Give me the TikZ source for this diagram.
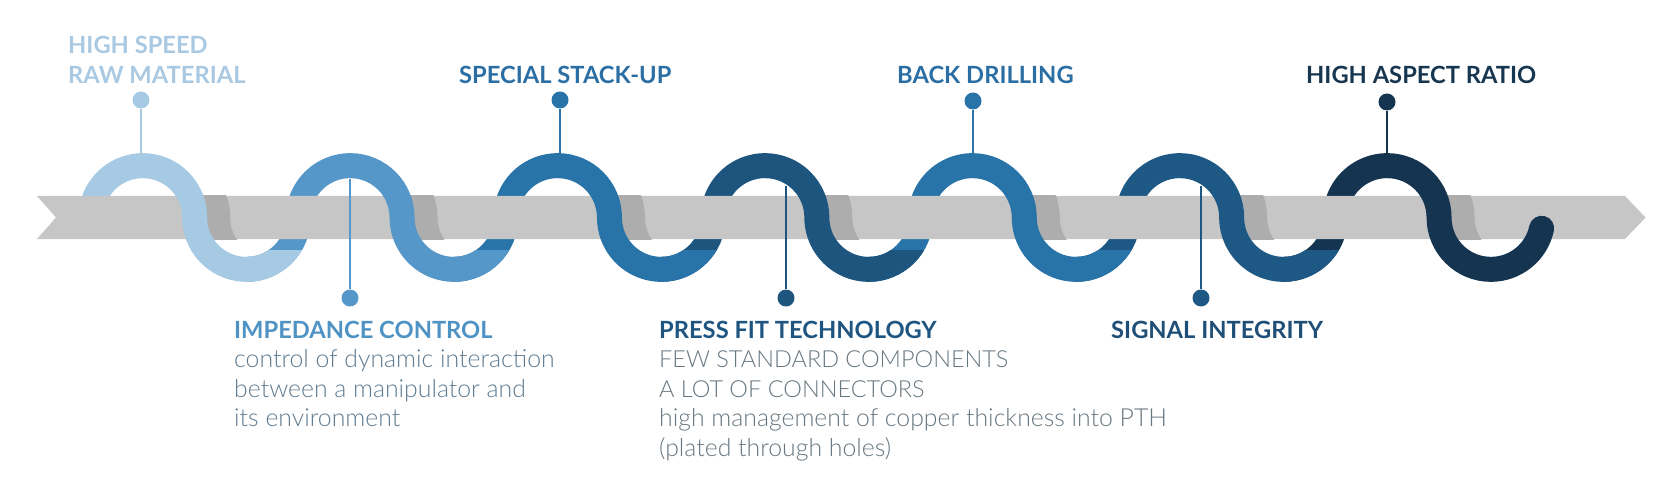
\documentclass[tikz,border=0pt]{standalone}
\usepackage{fontspec}
\setmainfont{Lato}
\newfontfamily\hf{Lato}
\newfontfamily\lf{Lato Light}
\definecolor{w1}{HTML}{A7CAE4}
\definecolor{w2}{HTML}{5597C9}
\definecolor{w3}{HTML}{2873A8}
\definecolor{w4}{HTML}{1D557F}
\definecolor{w5}{HTML}{2873A8}
\definecolor{w6}{HTML}{1E5884}
\definecolor{w7}{HTML}{14344F}
\definecolor{t1}{HTML}{A9C9E2}
\definecolor{t2}{HTML}{4F92C4}
\definecolor{t3}{HTML}{2A6EA4}
\definecolor{t4}{HTML}{1F5581}
\definecolor{t6}{HTML}{1F4F76}
\definecolor{t7}{HTML}{173650}
\definecolor{bodyA}{HTML}{5F7B90}
\definecolor{bodyB}{HTML}{67767F}
\definecolor{barc}{HTML}{C6C6C6}
\definecolor{shadc}{HTML}{ADADAD}
\tikzset{
  wave/.style={line width=25pt, line cap=butt},
  stick/.style={line width=2pt},
  head/.style={anchor=base west, inner sep=0pt, font=\hf\bfseries\fontsize{23.7}{28}\selectfont},
  bodytxt/.style={anchor=base west, inner sep=0pt, font=\lf\fontsize{23.5}{28}\selectfont},
  bodylow/.style={anchor=base west, inner sep=0pt, font=\lf\fontsize{24.8}{28}\selectfont},
}
\begin{document}
\begin{tikzpicture}[x=1pt,y=-1pt]
\useasboundingbox (0,0) rectangle (1670,489);
\def\R{51.85}
\def\CY{217.5}
% ---- wave parts behind the bar
\foreach \i/\col in {1/w1,2/w2,3/w3,4/w4,5/w5,6/w6,7/w7}{
  \pgfmathsetmacro\cx{142.8+(\i-1)*207.4}
  \pgfmathsetmacro\px{\cx-103.7}
  \ifnum\i=1
    \draw[wave,\col] (\cx-\R,\CY) arc[start angle=180,end angle=272,radius=\R];
  \else
    \draw[wave,\col] (\px,\CY+\R) arc[start angle=90,end angle=0,radius=\R]
       arc[start angle=180,end angle=272,radius=\R];
  \fi
}
\begin{scope}
  \clip (0,250) rectangle (1670,489);
  \foreach \i/\col in {1/w1,2/w2,3/w3,4/w4,5/w5,6/w6}{
    \pgfmathsetmacro\tx{142.8+(\i-1)*207.4+103.7}
    \draw[wave,\col] (\tx,\CY+\R) arc[start angle=90,end angle=0,radius=\R];
  }
\end{scope}
% ---- bar
\fill[barc] (37,196) -- (1625,196) -- (1645.5,217.5) -- (1625,239) -- (37,239) -- (56,217.5) -- cycle;
% ---- shadows on the bar
\begin{scope}
  \clip (37,196) rectangle (1625,239);
  \foreach \i in {1,...,7}{
    \pgfmathsetmacro\cx{142.8+(\i-1)*207.4+23}
    \draw[wave,shadc] (\cx,\CY-\R) arc[start angle=270,end angle=360,radius=\R]
       arc[start angle=180,end angle=100,radius=\R];
  }
\end{scope}
% ---- wave parts in front of the bar
\foreach \i/\col in {1/w1,2/w2,3/w3,4/w4,5/w5,6/w6}{
  \pgfmathsetmacro\cx{142.8+(\i-1)*207.4}
  \draw[wave,\col] (\cx,\CY-\R) arc[start angle=270,end angle=360,radius=\R]
     arc[start angle=180,end angle=88,radius=\R];
}
\pgfmathsetmacro\cxl{142.8+6*207.4}
\draw[wave,w7,line cap=round] (\cxl,\CY-\R) arc[start angle=270,end angle=360,radius=\R]
   arc[start angle=180,end angle=12,radius=\R];
% ---- sticks and dots (top)
\foreach \x/\y/\col/\nm in {141/100/w1/d1,560/100/w3/d3,973/101/w5/d5,1387/102/w7/d7}{
  \node[circle, fill=\col, inner sep=0pt, minimum size=17pt] (\nm) at (\x,\y) {};
  \coordinate (\nm e) at (\x,155);
  \draw[stick,\col] (\nm) -- (\nm e);
}
% ---- sticks and dots (bottom)
\foreach \x/\ys/\col/\nm in {350/179/w2/d2,786/186/w4/d4,1201/186/w6/d6}{
  \node[circle, fill=\col, inner sep=0pt, minimum size=17pt] (\nm) at (\x,298) {};
  \coordinate (\nm s) at (\x,\ys);
  \draw[stick,\col] (\nm s) -- (\nm);
}
% ---- texts
\node[head,text=t1] (h1a) at (68,54) {HIGH SPEED};
\node[head,text=t1] (h1b) at (68,84) {RAW MATERIAL};
\node[head,text=t3] (h3) at (459,84) {SPECIAL STACK-UP};
\node[head,text=t3] (h5) at (897,84) {BACK DRILLING};
\node[head,text=t7] (h7) at (1306,84) {HIGH ASPECT RATIO};
\node[head,text=t2] (h2) at (234,338) {IMPEDANCE CONTROL};
\node[bodylow,text=bodyA] (b2a) at (234,367) {control of dynamic interaction};
\node[bodylow,text=bodyA] (b2b) at (234,397) {between a manipulator and};
\node[bodylow,text=bodyA] (b2c) at (234,426) {its environment};
\node[head,text=t4] (h4) at (659,338) {PRESS FIT TECHNOLOGY};
\node[bodytxt,text=bodyB] (b4a) at (659,367) {FEW STANDARD COMPONENTS};
\node[bodytxt,text=bodyB] (b4b) at (659,397) {A LOT OF CONNECTORS};
\node[bodylow,text=bodyB] (b4c) at (659,426) {high management of copper thickness into PTH};
\node[bodylow,text=bodyB] (b4d) at (659,456) {(plated through holes)};
\node[head,text=t6] (h6) at (1111,338) {SIGNAL INTEGRITY};
\end{tikzpicture}
\end{document}
